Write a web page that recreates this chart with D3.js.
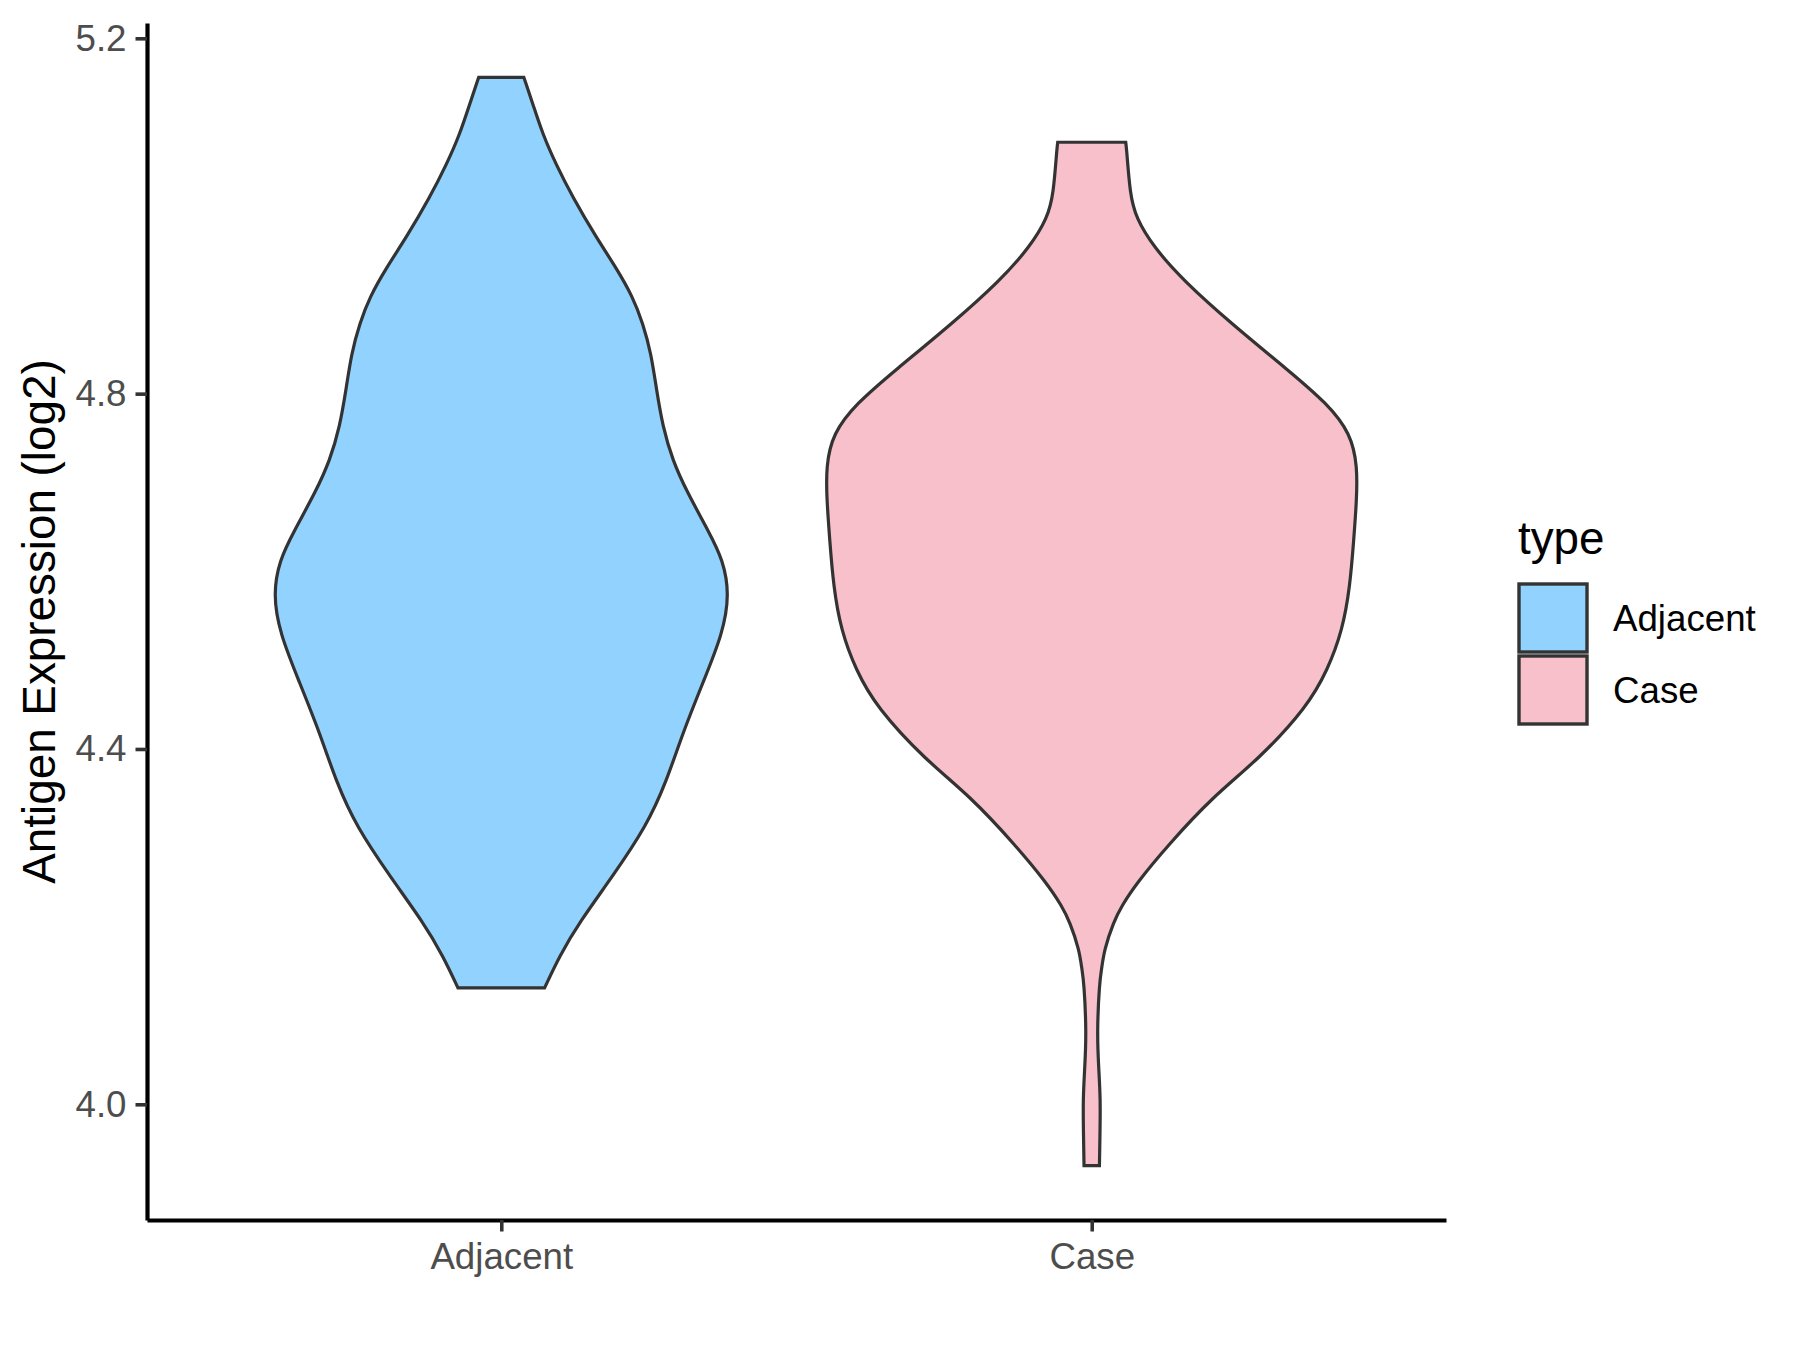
<!DOCTYPE html>
<html>
<head>
<meta charset="utf-8">
<script src="https://cdn.jsdelivr.net/npm/d3@7"></script>
<style>
  body { margin: 0; background: #ffffff; }
  text { font-family: "Liberation Sans", Arial, sans-serif; }
</style>
</head>
<body>
<div id="plotDiv"></div>
<script>
// categories and fill colours
var categories = ["Adjacent", "Case"];
var fills = ["#92D2FE", "#F7C0CB"];

// violin outlines: expression value (log2) and relative density width (Case max = 1)
var adjacentY = [5.156, 5.126, 5.092, 5.058, 5.021, 4.976, 4.942, 4.909, 4.879, 4.845, 4.807,
                 4.762, 4.725, 4.691, 4.643, 4.613, 4.575, 4.530, 4.474, 4.418, 4.362, 4.313,
                 4.257, 4.205, 4.167, 4.131];
var adjacentWidth = [0.085, 0.119, 0.156, 0.206, 0.269, 0.357, 0.432, 0.495, 0.533, 0.564, 0.583,
                     0.608, 0.645, 0.696, 0.784, 0.834, 0.859, 0.834, 0.758, 0.683, 0.620, 0.546,
                     0.420, 0.294, 0.219, 0.163];

var caseY = [5.083, 5.073, 5.025, 4.998, 4.965, 4.927, 4.879, 4.826, 4.789, 4.755, 4.718,
             4.680, 4.635, 4.583, 4.534, 4.489, 4.447, 4.388, 4.347, 4.291, 4.249,
             4.223, 4.205, 4.174, 4.152, 4.137, 4.081, 4.042, 4.006, 3.965, 3.931];
var caseWidth = [0.128, 0.132, 0.144, 0.166, 0.233, 0.346, 0.525, 0.741, 0.886, 0.975, 1.000,
                 0.997, 0.986, 0.972, 0.944, 0.888, 0.810, 0.627, 0.458, 0.285, 0.169,
                 0.112, 0.082, 0.047, 0.037, 0.029, 0.020, 0.026, 0.033, 0.031, 0.029];

var yTicks = [4.0, 4.4, 4.8, 5.2];

var W = 1800, H = 1350;
var panel = {left: 147, right: 1446, top: 23, bottom: 1220};

var svg = d3.select("#plotDiv").append("svg")
    .attr("width", W).attr("height", H);
svg.append("rect").attr("width", W).attr("height", H).attr("fill", "#ffffff");

// y domain = data range expanded by 5% (ggplot default)
var allY = adjacentY.concat(caseY);
var yMin = d3.min(allY), yMax = d3.max(allY);
var pad = (yMax - yMin) * 0.05;
var y = d3.scaleLinear().domain([yMin - pad, yMax + pad]).range([panel.bottom, panel.top]);

var x = d3.scalePoint().domain(categories).range([panel.left, panel.right]).padding(0.6);
var halfMax = x.step() * 0.45;

var violins = [
    {name: "Adjacent", ys: adjacentY, ws: adjacentWidth, fill: fills[0]},
    {name: "Case", ys: caseY, ws: caseWidth, fill: fills[1]}
];

violins.forEach(function(v) {
    var cx = x(v.name);
    var pts = v.ys.map(function(d, i) { return {y: d, w: v.ws[i]}; });
    var area = d3.area()
        .y(function(d) { return y(d.y); })
        .x0(function(d) { return cx - d.w * halfMax; })
        .x1(function(d) { return cx + d.w * halfMax; })
        .curve(d3.curveBasis);
    svg.append("path")
        .datum(pts)
        .attr("d", area)
        .attr("fill", v.fill)
        .attr("stroke", "#333333")
        .attr("stroke-width", 3.2)
        .attr("stroke-linejoin", "miter");
});

// axes
var yAxis = svg.append("g")
    .attr("transform", "translate(" + panel.left + ",0)")
    .call(d3.axisLeft(y).tickValues(yTicks).tickFormat(d3.format(".1f"))
        .tickSize(11.5).tickSizeOuter(0).tickPadding(9));

var xAxis = svg.append("g")
    .attr("transform", "translate(0," + panel.bottom + ")")
    .call(d3.axisBottom(x).tickSize(11.5).tickSizeOuter(0).tickPadding(10));

[yAxis, xAxis].forEach(function(g) {
    g.select(".domain").attr("stroke", "#000000").attr("stroke-width", 4.2);
    g.selectAll(".tick line").attr("stroke", "#333333").attr("stroke-width", 3.6);
    g.selectAll(".tick text")
        .attr("fill", "#4D4D4D")
        .style("font-size", "36.7px")
        .style("font-family", "'Liberation Sans', Arial, sans-serif");
});
xAxis.selectAll(".tick text").attr("dy", "0.75em");

// y axis title
svg.append("text")
    .attr("transform", "translate(55," + ((panel.top + panel.bottom) / 2) + ") rotate(-90)")
    .attr("text-anchor", "middle")
    .attr("fill", "#000000")
    .style("font-size", "45.8px")
    .text("Antigen Expression (log2)");

// legend
var legend = svg.append("g");
legend.append("text")
    .attr("x", 1518).attr("y", 554)
    .attr("fill", "#000000")
    .style("font-size", "45.8px")
    .text("type");

categories.forEach(function(c, i) {
    var top = 584 + i * 72;
    legend.append("rect")
        .attr("x", 1519).attr("y", top)
        .attr("width", 68).attr("height", 68)
        .attr("fill", fills[i])
        .attr("stroke", "#333333")
        .attr("stroke-width", 3.4);
    legend.append("text")
        .attr("x", 1613).attr("y", top + 34 + 13)
        .attr("fill", "#000000")
        .style("font-size", "36.7px")
        .text(c);
});
</script>
</body>
</html>
